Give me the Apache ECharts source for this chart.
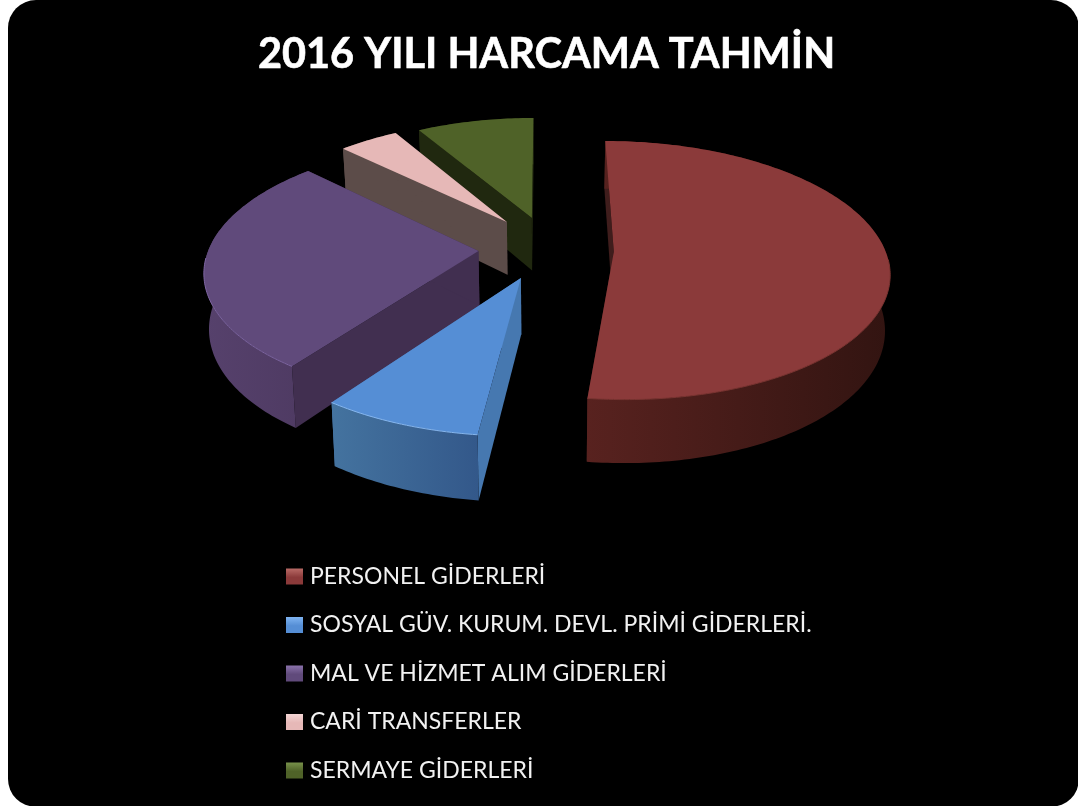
<!DOCTYPE html>
<html><head><meta charset="utf-8">
<style>
html,body{margin:0;padding:0;background:#fff;width:1078px;height:806px;overflow:hidden}
#bg{position:absolute;left:8px;top:0;width:1071px;height:807px;background:#000;border-radius:28px}
#chart{position:absolute;left:0;top:0;width:1078px;height:806px}
</style>
<script src="https://cdn.jsdelivr.net/npm/echarts@6/dist/echarts.min.js"></script>
</head><body><div id="bg"></div><div id="chart"></div>
<script>
const titleText = '2016 YILI HARCAMA TAHMİN';
const categories = ['PERSONEL GİDERLERİ','SOSYAL GÜV. KURUM. DEVL. PRİMİ GİDERLERİ.','MAL VE HİZMET ALIM GİDERLERİ','CARİ TRANSFERLER','SERMAYE GİDERLERİ'];
const values = [51.9, 8.0, 27.4, 4.3, 8.4];

// styling per slice
const topColors   = ['#8b3a3a','#558ed5','#604a7b','#e6b8b7','#4f6228'];
const rimColors   = ['#7a3431','#86b6ee','#7c64a0','#e6b8b7','#4f6228'];
const wallLeft    = ['#58221f','#44739f','#56416c','#5c4c49','#20280f'];
const wallRight   = ['#321411','#33588a','#4e3a62','#5c4c49','#20280f'];
const edgeColors  = ['#3f1d1c','#4678b0','#412f50','#5c4c49','#20280f'];
const legendLight = ['#b96a66','#7fb4f2','#8a72ab','#f4d6d5','#78914a'];
// layout of the exploded, tilted pie
const offsetU = [0.253,-0.086,-0.245,-0.145,-0.05];
const offsetV = [0.0,0.2,-0.008,-0.245,-0.279];
const radius  = [1,1.005,0.995,0.97,0.965];
const layout = {cx:545, cy:252, a:272, b:126.7, k:0.1416, depth:54.5, bottomScale:0.985};

const total = values.reduce((s,v)=>s+v,0);
const starts = values.map((_,i)=>values.slice(0,i).reduce((s,v)=>s+v,0)/total*2*Math.PI);

function project(u,v,bottom){
  const w = 1 - layout.k*v;
  let x = layout.cx + layout.a*u/w;
  let y = layout.cy + layout.b*v/w;
  if(bottom){ x = layout.cx + (x-layout.cx)*layout.bottomScale; y += layout.depth/w; }
  return [x,y];
}
function renderSlice(i,api){
  const a0 = starts[i], a1 = a0 + api.value(0)/total*2*Math.PI;
  const ou = offsetU[i], ov = offsetV[i], r = radius[i];
  const apexT = project(ou,ov,false), apexB = project(ou,ov,true);
  const arcT = [], arcB = [], rim = [], n = Math.max(8,Math.ceil((a1-a0)*60));
  for(let j=0;j<=n;j++){
    const t = a0+(a1-a0)*j/n, u = ou+r*Math.sin(t), v = ov-r*Math.cos(t);
    arcT.push(project(u,v,false)); arcB.push(project(u,v,true));
    if(Math.cos(t) < -0.05) rim.push(project(u,v,false));
  }
  const poly = (pts,fill)=>({type:'polygon',shape:{points:pts},style:{fill:fill},silent:true});
  const lastT = arcT[n], lastB = arcB[n];
  const grad = new echarts.graphic.LinearGradient(0,0,1,0,[{offset:0,color:wallLeft[i]},{offset:1,color:wallRight[i]}]);
  const children = [
    poly([apexT,arcT[0],arcB[0],apexB],edgeColors[i]),
    poly([apexT,lastT,lastB,apexB],edgeColors[i]),
    poly(arcT.concat(arcB.slice().reverse()),grad),
    poly([apexT].concat(arcT),topColors[i])
  ];
  if(rim.length>1) children.push({type:'polyline',shape:{points:rim},style:{stroke:rimColors[i],lineWidth:1,fill:null},silent:true});
  return {type:'group',children:children};
}
const paint = [4,3,2,1,0]; // back to front
const series = paint.map((i,order)=>({
  type:'custom', name:categories[i], coordinateSystem:'none', z:2+order,
  itemStyle:{color:topColors[i]}, data:[[values[i]]],
  renderItem:(p,api)=>renderSlice(i,api)
}));
const chart = echarts.init(document.getElementById('chart'),null,{renderer:'canvas'});
chart.setOption({
  animation:false,
  backgroundColor:'transparent',
  title:{text:titleText,left:541.5,top:29,textAlign:'center',
    textStyle:{color:'#fff',fontFamily:'Lato',fontWeight:'bold',fontSize:41.5,textBorderColor:'#fff',textBorderWidth:0.6}},
  legend:{orient:'vertical',left:281,top:560,itemWidth:17,itemHeight:16,itemGap:25.5,selectedMode:false,icon:'rect',
    textStyle:{color:'#f2f2f2',fontFamily:'Lato',fontSize:23,padding:[0,0,0,2]},
    data:categories.map((c,i)=>({name:c,icon:'rect',itemStyle:{color:new echarts.graphic.LinearGradient(0,0,0,1,[{offset:0,color:legendLight[i]},{offset:0.55,color:topColors[i]},{offset:1,color:topColors[i]}])}}))},
  series:series
});
</script></body></html>
